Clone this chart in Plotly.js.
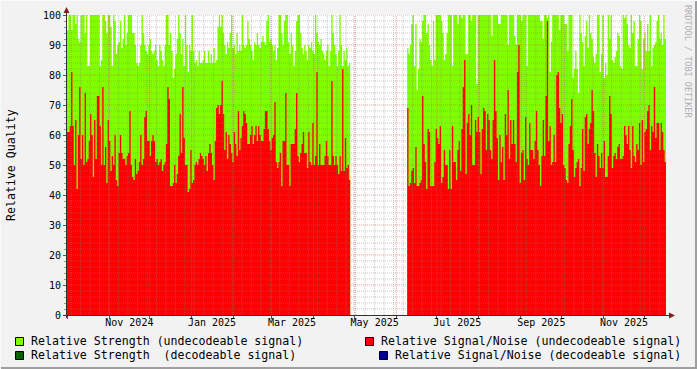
<!DOCTYPE html>
<html><head><meta charset="utf-8">
<script src="https://cdn.plot.ly/plotly-3.0.1.min.js"></script>
<style>html,body{margin:0;padding:0;background:#f2f2f2;}#chart{width:697px;height:369px;}</style>
</head><body><div id="chart"></div>
<script>
// ---- data (daily values) ----
const startA = '2024-10-01';
const startB = '2025-06-09';
const rangeStart = '2024-10-01';
const rangeEnd = '2025-12-17';

const strengthA = [
95,100,100,95,100,100,97,100,92,91,
100,100,100,94,100,83,83,100,100,100,
100,100,100,100,83,85,100,100,98,94,
100,100,96,83,100,98,87,90,91,98,
89,92,100,90,94,100,100,100,94,94,
90,84,83,84,90,100,94,90,88,87,
90,92,88,87,88,90,85,83,90,88,
85,83,90,100,100,90,94,88,79,82,
87,92,100,94,87,92,83,100,90,81,
90,88,100,88,84,85,83,88,84,84,
85,88,84,84,
88,84,87,84,89,84,85,96,100,96,100,94,
90,87,91,89,94,100,89,90,87,94,88,90,
88,100,90,89,90,98,92,90,88,85,
91,90,94,90,89,91,93,91,90,98,100,91,92,90,88,
90,85,89,100,100,94,90,98,100,100,91,87,94,90,83,
88,98,100,100,94,89,87,90,88,85,90,89,91,88,87,
100,94,91,90,92,88,87,85,88,90,
83,88,100,94,90,87,83,88,100,90,83,88,85,89,83,84];

const snrA = [
61,61,63,81,63,50,65,42,60,76,
52,60,50,74,51,52,58,67,60,46,
65,52,73,73,63,50,76,50,56,44,
65,58,48,53,50,60,45,43,54,60,
54,52,52,50,53,54,68,50,46,45,
52,47,48,51,60,50,52,66,68,58,
58,53,58,60,58,51,52,50,51,52,
48,50,51,57,76,72,43,43,44,50,
44,47,53,67,54,76,59,50,50,41,
42,55,44,45,50,51,50,52,54,53,
52,50,53,48,
54,57,54,50,45,
58,69,70,67,70,78,67,
55,61,52,60,57,54,51,61,57,53,68,55,
59,63,68,67,64,57,57,60,63,57,60,63,58,63,60,58,58,62,68,68,
62,58,55,59,60,71,
51,49,51,54,43,58,58,74,50,50,43,57,
57,57,62,74,53,51,54,57,61,54,54,49,
61,51,50,64,50,53,81,50,
57,50,50,50,53,58,53,50,50,78,53,50,53,50,47,53,48,82,48,59,49,50,45];

const strengthB = [
89,87,90,97,100,83,97,75,82,92,
91,98,100,100,94,97,90,85,83,98,
85,100,100,100,100,98,94,85,87,94,
100,100,100,83,100,100,100,97,100,100,
99,100,100,87,87,100,100,98,100,100,
100,77,100,100,100,100,100,100,100,100,
100,100,93,100,100,100,100,97,97,100,
100,100,100,100,90,100,100,100,100,93,
90,100,100,100,98,100,100,100,83,100,
100,100,100,100,100,100,100,
100,98,98,92,100,100,99,100,81,91,
100,100,100,100,100,95,100,100,100,97,
97,88,100,100,100,79,82,88,82,74,
100,94,91,83,93,98,89,100,94,92,
86,84,87,100,100,81,87,100,79,84,
80,100,92,100,85,84,86,88,94,93,
83,82,100,99,100,97,90,89,100,94,
98,83,83,92,100,98,82,92,94,88,
97,88,100,83,89,90,91,98,100,92,
94,90,100,92];

const snrB = [
69,43,44,48,49,44,56,43,43,44,
45,73,57,51,42,62,61,43,43,43,
51,62,59,57,63,44,46,55,50,50,
42,55,42,63,51,51,45,55,58,48,
62,76,85,47,64,67,60,70,50,50,
65,61,66,61,47,62,69,68,55,67,
65,55,52,65,85,68,59,45,60,51,
56,45,67,60,75,52,65,57,65,57,
51,81,90,44,54,55,45,66,52,50,
64,55,55,52,58,68,55,
50,43,53,65,53,73,98,58,63,50,
51,60,51,80,81,69,64,67,50,49,
45,44,57,63,72,55,46,49,51,52,
43,49,62,48,66,67,57,62,64,75,
68,54,46,57,53,49,54,49,58,
46,46,53,73,67,49,53,54,52,56,
57,52,52,53,63,60,57,63,55,49,
63,53,51,57,55,64,50,65,51,
61,62,68,70,55,63,61,76,59,64,
64,55,64,61,55,51];

const tickDates = ['2024-11-16','2025-01-16','2025-03-16','2025-05-16','2025-07-16','2025-09-16','2025-11-16'];
const tickLabels = ['Nov 2024','Jan 2025','Mar 2025','May 2025','Jul 2025','Sep 2025','Nov 2025'];

const legendLabels = ['Relative Strength (undecodeable signal)','Relative Signal/Noise (undecodeable signal)',
  'Relative Strength  (decodeable signal)','Relative Signal/Noise (decodeable signal)'];
const colStrengthU = '#80ff00', colSnrU = '#ff0000', colStrengthD = '#006400', colSnrD = '#000090';

// ---- helpers ----
const DAY = 86400000;
const t0 = s => Date.parse(s + 'T00:00:00Z');
function stepSeries(start, vals){
  const xs = vals.map((v,i)=>t0(start)+i*DAY);
  const ys = vals.slice();
  xs.push(t0(start)+vals.length*DAY); ys.push(vals[vals.length-1]);
  return {xs, ys};
}
function area(s, color, xaxis){
  return {x:s.xs, y:s.ys, type:'scatter', mode:'lines', line:{shape:'hv', width:0, color:color},
          fill:'tozeroy', fillcolor:color, hoverinfo:'skip', xaxis:xaxis||'x', yaxis:'y', showlegend:false};
}
const sA = stepSeries(startA, strengthA), sB = stepSeries(startB, strengthB);
const rA = stepSeries(startA, snrA), rB = stepSeries(startB, snrB);

const traces = [
  area(sA, colStrengthU), area(sB, colStrengthU),
  area(rA, colSnrU, 'x2'), area(rB, colSnrU, 'x2')
];

// pixel -> paper helpers (plot area is 67..666 x 15..315)
const L=67, R=666, T=15, B=315;
const px = p => (p-L)/(R-L), py = p => (B-p)/(B-T);

const shapes = [];
const minorGrid = 'rgba(130,130,130,0.45)', majorGrid = 'rgba(222,81,81,0.55)';
const endT = t0(rangeEnd);
for (let t = t0('2024-10-04'); t < endT; t += 7*DAY)
  shapes.push({type:'line', xref:'x', yref:'paper', x0:t, x1:t, y0:0, y1:1, layer:'above', line:{color:minorGrid, width:1, dash:'1px,1px'}});
for (let v = 2; v <= 100; v += 2) {
  const maj = v % 10 === 0;
  shapes.push({type:'line', xref:'paper', yref:'y', x0:0, x1:1, y0:v, y1:v, layer:'above', line:{color: maj?majorGrid:minorGrid, width:1, dash:'1px,1px'}});
}
for (let k = 1; k < 20; k++) {
  const t = Date.UTC(2024, 9 + k, 1);
  if (t >= endT) break;
  shapes.push({type:'line', xref:'x', yref:'paper', x0:t, x1:t, y0:0, y1:1, layer:'above', line:{color:majorGrid, width:1, dash:'1px,1px'}});
}
const axisCol = '#333333', arrowCol = '#7f1f1f';
shapes.push({type:'line', xref:'paper', yref:'paper', x0:px(66.5), x1:px(66.5), y0:py(318), y1:py(12), layer:'above', line:{color:axisCol, width:1}});
shapes.push({type:'line', xref:'paper', yref:'paper', x0:px(63), x1:px(670), y0:py(315.5), y1:py(315.5), layer:'above', line:{color:axisCol, width:1}});
shapes.push({type:'path', xref:'paper', yref:'paper', layer:'above', fillcolor:arrowCol, line:{width:0},
  path:`M ${px(63.5)} ${py(13)} L ${px(69.5)} ${py(13)} L ${px(66.5)} ${py(7)} Z`});
shapes.push({type:'path', xref:'paper', yref:'paper', layer:'above', fillcolor:arrowCol, line:{width:0},
  path:`M ${px(669)} ${py(312.5)} L ${px(669)} ${py(318.5)} L ${px(675)} ${py(315.5)} Z`});
shapes.push({type:'line', xref:'paper', yref:'paper', x0:px(696), x1:px(696), y0:py(0), y1:py(369), line:{color:'#9e9e9e', width:2}});
shapes.push({type:'line', xref:'paper', yref:'paper', x0:px(0), x1:px(697), y0:py(368), y1:py(368), line:{color:'#9e9e9e', width:2}});
shapes.push({type:'line', xref:'paper', yref:'paper', x0:px(0.5), x1:px(0.5), y0:py(0), y1:py(369), line:{color:'#fafafa', width:1}});
shapes.push({type:'line', xref:'paper', yref:'paper', x0:px(0), x1:px(697), y0:py(0.5), y1:py(0.5), line:{color:'#fafafa', width:1}});

const mono = '"DejaVu Sans Mono", monospace';
const legendItems = [
  {box:[15,337], tx:30, ty:341, c:colStrengthU, t:legendLabels[0]},
  {box:[365,337], tx:380, ty:341, c:colSnrU, t:legendLabels[1]},
  {box:[15,351], tx:30, ty:355, c:colStrengthD, t:legendLabels[2]},
  {box:[379,351], tx:394, ty:355, c:colSnrD, t:legendLabels[3]}
];
const annotations = [];
legendItems.forEach(it=>{
  shapes.push({type:'rect', xref:'paper', yref:'paper', x0:px(it.box[0]+0.5), x1:px(it.box[0]+8.5), y0:py(it.box[1]+0.5), y1:py(it.box[1]+8.5),
    fillcolor:it.c, line:{color:'#000', width:1}});
  annotations.push({xref:'paper', yref:'paper', x:px(it.tx-1), y:py(it.ty), xanchor:'left', yanchor:'middle', showarrow:false,
    text:it.t.replace(/ /g,'&nbsp;'), font:{family:mono, size:11.6, color:'#000'}});
});
annotations.push({xref:'paper', yref:'paper', x:px(11), y:py(165), xanchor:'center', yanchor:'middle', showarrow:false,
  textangle:-90, text:'Relative&nbsp;Quality', font:{family:mono, size:11.6, color:'#000'}});
annotations.push({xref:'paper', yref:'paper', x:px(688), y:py(61), xanchor:'center', yanchor:'middle', showarrow:false,
  textangle:90, text:'RRDTOOL / TOBI OETIKER', font:{family:mono, size:8.5, color:'#b0b0b0'}});

const layout = {
  width:697, height:369,
  margin:{l:L, r:697-R, t:T, b:369-B, pad:0},
  paper_bgcolor:'#f2f2f2', plot_bgcolor:'#ffffff',
  showlegend:false,
  xaxis:{type:'date', range:[t0(rangeStart), t0(rangeEnd)], fixedrange:true,
    tickmode:'linear', tick0:'2024-10-01', dtick:'M1', ticks:'outside', ticklen:3, tickcolor:'#555',
    showticklabels:false, showgrid:false, zeroline:false, showline:false},
  xaxis2:{type:'date', range:[t0(rangeStart), t0(rangeEnd)], fixedrange:true, overlaying:'x', anchor:'y', side:'bottom',
    tickmode:'array', tickvals:tickDates, ticktext:tickLabels, ticks:'', showgrid:false, zeroline:false, showline:false,
    tickfont:{family:mono, size:10, color:'#000'}},
  yaxis:{range:[0,100], fixedrange:true, tickmode:'linear', tick0:0, dtick:10, ticks:'outside', ticklen:3, tickcolor:'#555',
    showgrid:false, zeroline:false, showline:false, tickfont:{family:mono, size:10, color:'#000'},
    minor:{dtick:2, ticks:'outside', ticklen:2, tickcolor:'#999', showgrid:false}},
  shapes:shapes, annotations:annotations
};
Plotly.newPlot('chart', traces, layout, {displayModeBar:false, staticPlot:true});
</script></body></html>
